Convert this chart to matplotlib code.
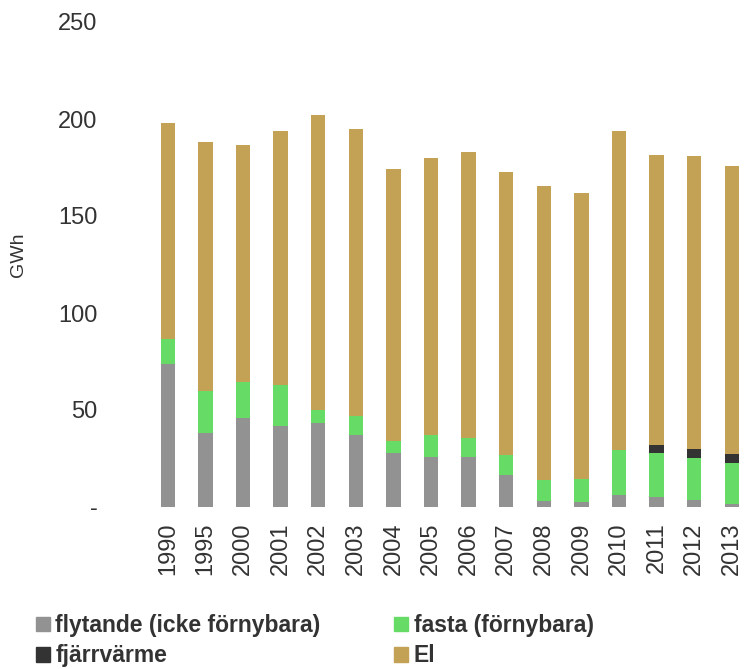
import matplotlib.pyplot as plt
from matplotlib.patches import Patch

plt.rcParams['font.family'] = ['Liberation Sans', 'DejaVu Sans']

# Data (GWh)
years = ['1990', '1995', '2000', '2001', '2002', '2003', '2004', '2005',
         '2006', '2007', '2008', '2009', '2010', '2011', '2012', '2013']
flytande = [73.5, 38, 46, 42, 43.5, 37, 28, 26, 26, 16.5, 3, 2.5, 6, 5, 3.5, 1.5]
fasta = [13, 22, 18.5, 21, 6.5, 10, 6, 11, 9.5, 10.5, 11, 12, 23.5, 23, 22, 21]
fjarrvarme = [0, 0, 0, 0, 0, 0, 0, 0, 0, 0, 0, 0, 0, 4.2, 4.5, 4.8]
el = [111.5, 128, 122, 131, 152, 148, 140, 143, 147.5, 145.5, 151.5, 147.5,
      164.5, 149.5, 151, 148.5]
y_ticks = [0, 50, 100, 150, 200, 250]
y_tick_labels = ['-', '50', '100', '150', '200', '250']

c_grey = '#929292'
c_green = '#66dc66'
c_dark = '#333333'
c_el = '#c4a255'

fig = plt.figure(figsize=(7.44, 6.69), dpi=100)
ax = fig.add_axes([149 / 744, 162 / 669, 601.6 / 744, 485 / 669])

x = range(len(years))
w = 0.38
bottom1 = flytande
bottom2 = [a + b for a, b in zip(flytande, fasta)]
bottom3 = [a + b for a, b in zip(bottom2, fjarrvarme)]

ax.bar(x, flytande, w, color=c_grey)
ax.bar(x, fasta, w, bottom=bottom1, color=c_green)
ax.bar(x, fjarrvarme, w, bottom=bottom2, color=c_dark)
ax.bar(x, el, w, bottom=bottom3, color=c_el)

ax.set_xlim(-0.5, 15.5)
ax.set_ylim(0, 250)
ax.set_xticks(list(x))
ax.set_xticklabels(years, rotation=90, fontsize=17, color='#333333')
ax.set_yticks(y_ticks)
ax.set_yticklabels(y_tick_labels, fontsize=17, color='#333333')
ax.tick_params(axis='y', length=0, pad=37)
ax.tick_params(axis='x', length=0, pad=11)
for s in ax.spines.values():
    s.set_visible(False)

ax.set_ylabel('GWh', fontsize=14, color='#333333')
ax.yaxis.set_label_coords(-0.203, 0.52)

handles = [Patch(color=c_grey, label='flytande (icke förnybara)'),
           Patch(color=c_dark, label='fjärrvärme'),
           Patch(color=c_green, label='fasta (förnybara)'),
           Patch(color=c_el, label='El')]
fig.legend(handles=handles, ncol=2, loc='upper left',
           bbox_to_anchor=(36 / 744, 1 - 614 / 669), frameon=False,
           prop={'weight': 'bold', 'size': 16.5},
           handlelength=0.6, handleheight=0.6, handletextpad=0.25,
           columnspacing=3.2, labelspacing=0.32, borderpad=0,
           borderaxespad=0, labelcolor='#333333')

fig.savefig('out.png', dpi=100)
